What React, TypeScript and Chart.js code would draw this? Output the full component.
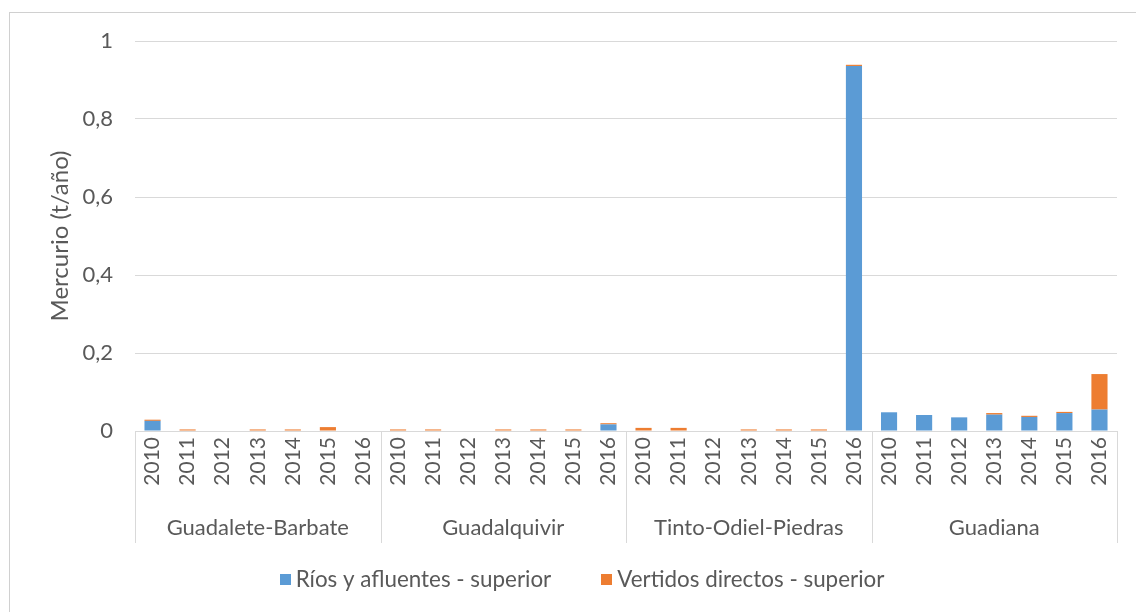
import React, { useEffect, useRef } from "react";
import { Chart, registerables } from "chart.js";

Chart.register(...registerables);

const groups = ["Guadalete-Barbate", "Guadalquivir", "Tinto-Odiel-Piedras", "Guadiana"];
const years = ["2010", "2011", "2012", "2013", "2014", "2015", "2016"];

// Ríos y afluentes - superior (t/año), 7 years per basin
const riosValues = [
  0.026, 0, 0, 0, 0, 0, 0,
  0, 0, 0, 0, 0, 0, 0.017,
  0, 0, 0, 0, 0, 0, 0.936,
  0.048, 0.041, 0.035, 0.042, 0.036, 0.046, 0.055,
];
// Vertidos directos - superior (t/año)
const vertidosValues = [
  0.003, 0.004, 0, 0.004, 0.004, 0.010, 0,
  0.004, 0.004, 0, 0.004, 0.004, 0.004, 0.003,
  0.008, 0.008, 0, 0.004, 0.004, 0.004, 0.003,
  0, 0, 0, 0.004, 0.003, 0.003, 0.091,
];
const yTicks = [0, 0.2, 0.4, 0.6, 0.8, 1];
const seriesNames = ["Ríos y afluentes - superior", "Vertidos directos - superior"];
const seriesColors = ["#5B9BD5", "#ED7D31"];

const categoryLabels = groups.flatMap((g) => years.map((y) => y));

const FONT = "Lato, 'Open Sans', sans-serif";
const TEXT = "#595959";
const GRID = "#d9d9d9";

const decorPlugin = {
  id: "decor",
  afterDraw(chart: any) {
    const { ctx, chartArea } = chart;
    const x = chart.scales.x;
    const n = categoryLabels.length;
    const per = years.length;
    ctx.save();
    // outer frame
    ctx.strokeStyle = "#d0d0d0";
    ctx.lineWidth = 1;
    ctx.strokeRect(9.5, 12.5, 1200, 700);

    // separators
    const bottom = chartArea.bottom;
    const sepEnd = 543;
    const bounds: number[] = [];
    for (let g = 0; g <= groups.length; g++) {
      let bx: number;
      if (g === 0) bx = chartArea.left;
      else if (g === groups.length) bx = chartArea.right;
      else bx = (x.getPixelForValue(g * per - 1) + x.getPixelForValue(g * per)) / 2;
      bounds.push(bx);
      ctx.beginPath();
      ctx.strokeStyle = GRID;
      ctx.moveTo(Math.round(bx) + 0.5, bottom);
      ctx.lineTo(Math.round(bx) + 0.5, sepEnd);
      ctx.stroke();
    }

    // year labels
    ctx.fillStyle = TEXT;
    ctx.font = `21px ${FONT}`;
    for (let i = 0; i < n; i++) {
      const px = x.getPixelForValue(i);
      ctx.save();
      ctx.translate(px, bottom + 6);
      ctx.rotate(-Math.PI / 2);
      ctx.textAlign = "right";
      ctx.textBaseline = "middle";
      ctx.fillText(categoryLabels[i], 0, 0);
      ctx.restore();
    }

    // group labels
    ctx.font = `22px ${FONT}`;
    ctx.textAlign = "center";
    ctx.textBaseline = "middle";
    for (let g = 0; g < groups.length; g++) {
      ctx.fillText(groups[g], (bounds[g] + bounds[g + 1]) / 2, 528);
    }

    // legend
    ctx.font = `22.4px ${FONT}`;
    const box = 11;
    const gap = 5;
    const spacing = 50;
    const widths = seriesNames.map((s) => box + gap + ctx.measureText(s).width);
    const total = widths.reduce((a, b) => a + b, 0) + spacing * (seriesNames.length - 1);
    let lx = 582 - total / 2;
    const ly = 579;
    ctx.textAlign = "left";
    for (let s = 0; s < seriesNames.length; s++) {
      ctx.fillStyle = seriesColors[s];
      ctx.fillRect(Math.round(lx), Math.round(ly - box / 2), box, box);
      ctx.fillStyle = TEXT;
      ctx.fillText(seriesNames[s], lx + box + gap, ly + 1);
      lx += widths[s] + spacing;
    }
    ctx.restore();
  },
};

export default function App() {
  const ref = useRef<HTMLCanvasElement | null>(null);
  useEffect(() => {
    if (!ref.current) return;
    const chart = new Chart(ref.current, {
      type: "bar",
      data: {
        labels: categoryLabels,
        datasets: [
          {
            label: seriesNames[0],
            data: riosValues,
            backgroundColor: seriesColors[0],
            barPercentage: 0.46,
            categoryPercentage: 1,
          },
          {
            label: seriesNames[1],
            data: vertidosValues,
            backgroundColor: seriesColors[1],
            barPercentage: 0.46,
            categoryPercentage: 1,
          },
        ],
      },
      options: {
        responsive: false,
        animation: false,
        devicePixelRatio: 1,
        layout: { padding: { top: 41, right: 19, bottom: 0, left: 0 } },
        plugins: {
          legend: { display: false },
          tooltip: { enabled: false },
        },
        scales: {
          x: {
            stacked: true,
            ticks: { display: false },
            grid: { display: false, drawTicks: false },
            border: { display: true, color: GRID, width: 1 },
            afterFit: (s: any) => {
              s.height = 181;
              s.paddingLeft = 0;
              s.paddingRight = 0;
            },
          },
          y: {
            stacked: true,
            min: 0,
            max: 1,
            afterBuildTicks: (s: any) => {
              s.ticks = yTicks.map((v) => ({ value: v }));
            },
            ticks: {
              padding: 22,
              color: TEXT,
              font: { family: FONT, size: 22 },
              callback: (v: any) => String(v).replace(".", ","),
            },
            grid: { color: GRID, lineWidth: 1, drawTicks: false },
            border: { display: false },
            title: {
              display: true,
              text: "Mercurio (t/año)",
              color: TEXT,
              font: { family: FONT, size: 24 },
              padding: { top: 46, bottom: 0 },
            },
            afterFit: (s: any) => {
              s.width = 135;
              s.paddingTop = 0;
              s.paddingBottom = 0;
            },
          },
        },
      },
      plugins: [decorPlugin],
    });
    return () => chart.destroy();
  }, []);
  return (
    <div style={{ position: "absolute", left: 0, top: 0, width: 1136, height: 612, background: "#fff" }}>
      <canvas ref={ref} width={1136} height={612} style={{ display: "block" }} />
    </div>
  );
}
